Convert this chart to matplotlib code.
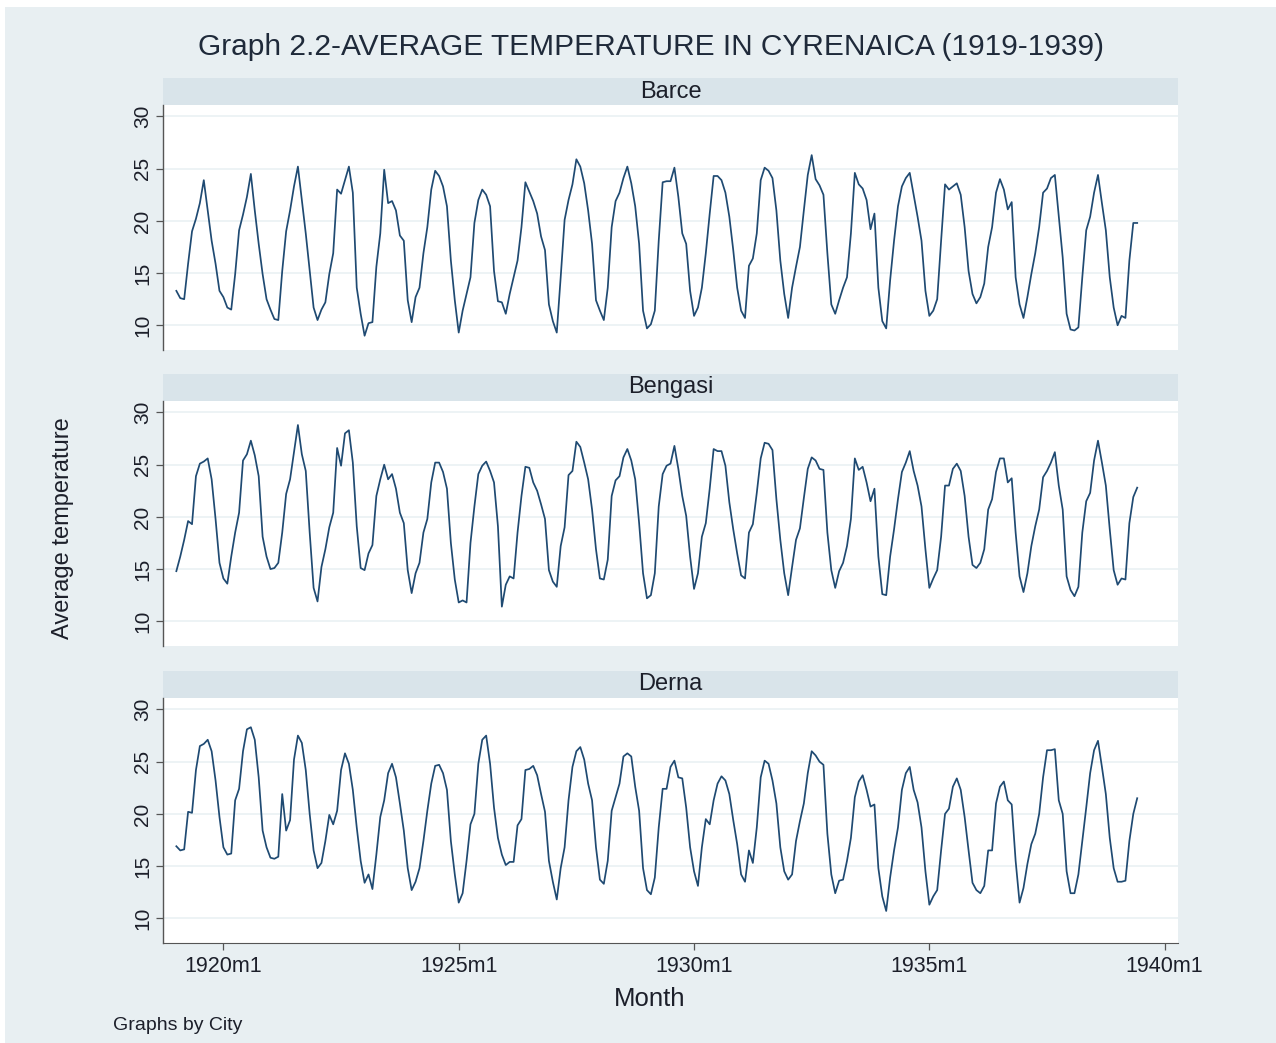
import matplotlib.pyplot as plt
from matplotlib.patches import Rectangle
import numpy as np

plt.rcParams['font.family'] = ['Liberation Sans', 'DejaVu Sans']

# monthly average temperature, 1919m1 .. 1939m6
barce = [
    13.3, 12.6, 12.5, 15.9, 19.0, 20.2, 21.7, 23.9, 21.0, 18.1, 15.9, 13.3,  # 1919
    12.7, 11.7, 11.5, 14.9, 19.1, 20.6, 22.3, 24.5, 21.0, 17.8, 14.9, 12.5,  # 1920
    11.5, 10.6, 10.5, 15.2, 19.0, 21.0, 23.3, 25.2, 22.0, 18.8, 15.2, 11.7,  # 1921
    10.5, 11.5, 12.2, 14.9, 16.9, 23.0, 22.6, 23.9, 25.2, 22.7, 13.6, 11.1,  # 1922
    9.0, 10.2, 10.3, 15.6, 18.8, 24.9, 21.7, 21.9, 21.0, 18.6, 18.1, 12.4,   # 1923
    10.3, 12.7, 13.6, 16.9, 19.4, 23.0, 24.8, 24.3, 23.3, 21.4, 16.2, 12.4,  # 1924
    9.3, 11.4, 13.0, 14.6, 19.8, 22.0, 23.0, 22.5, 21.4, 15.2, 12.3, 12.2,   # 1925
    11.1, 13.0, 14.6, 16.2, 19.4, 23.7, 22.8, 21.9, 20.7, 18.5, 17.2, 12.0,  # 1926
    10.4, 9.3, 14.6, 20.1, 22.0, 23.5, 25.9, 25.2, 23.6, 21.0, 17.8, 12.4,   # 1927
    11.4, 10.5, 13.6, 19.4, 21.9, 22.7, 24.1, 25.2, 23.6, 21.4, 17.8, 11.4,  # 1928
    9.7, 10.1, 11.4, 18.1, 23.7, 23.8, 23.8, 25.1, 22.3, 18.8, 17.8, 13.3,   # 1929
    10.9, 11.7, 13.6, 16.9, 20.7, 24.3, 24.3, 23.9, 22.7, 20.4, 17.2, 13.6,  # 1930
    11.4, 10.7, 15.7, 16.4, 18.8, 23.9, 25.1, 24.8, 24.1, 21.0, 16.2, 13.0,  # 1931
    10.7, 13.6, 15.6, 17.5, 21.0, 24.4, 26.3, 24.0, 23.4, 22.5, 16.9, 12.0,  # 1932
    11.1, 12.4, 13.6, 14.6, 18.8, 24.6, 23.5, 23.1, 22.0, 19.2, 20.7, 13.6,  # 1933
    10.4, 9.7, 14.3, 18.1, 21.4, 23.3, 24.1, 24.6, 22.5, 20.4, 18.1, 13.3,   # 1934
    10.9, 11.4, 12.5, 18.1, 23.5, 23.0, 23.3, 23.6, 22.5, 19.4, 15.2, 13.0,  # 1935
    12.1, 12.7, 14.0, 17.5, 19.4, 22.7, 24.0, 23.0, 21.1, 21.8, 14.6, 12.0,  # 1936
    10.7, 12.7, 14.9, 16.9, 19.4, 22.7, 23.1, 24.1, 24.4, 20.4, 16.5, 11.1,  # 1937
    9.6, 9.5, 9.8, 14.6, 19.1, 20.4, 22.7, 24.4, 21.7, 19.1, 14.6, 11.7,     # 1938
    10.0, 10.9, 10.7, 16.2, 19.8, 19.8,                                      # 1939
]
bengasi = [
    14.8, 16.2, 17.8, 19.6, 19.3, 23.9, 25.1, 25.3, 25.6, 23.6, 19.8, 15.6,  # 1919
    14.1, 13.6, 16.2, 18.5, 20.4, 25.4, 26.0, 27.3, 25.9, 23.9, 18.1, 16.2,  # 1920
    15.0, 15.1, 15.6, 18.5, 22.2, 23.6, 26.2, 28.8, 26.0, 24.4, 18.5, 13.2,  # 1921
    11.9, 15.2, 16.9, 19.0, 20.4, 26.6, 24.9, 28.0, 28.3, 25.2, 19.1, 15.1,  # 1922
    14.9, 16.5, 17.3, 22.0, 23.6, 25.0, 23.6, 24.1, 22.7, 20.4, 19.4, 14.9,  # 1923
    12.7, 14.6, 15.6, 18.5, 19.8, 23.3, 25.2, 25.2, 24.3, 22.7, 17.5, 14.0,  # 1924
    11.8, 12.0, 11.8, 17.5, 21.0, 24.1, 24.9, 25.3, 24.4, 23.3, 19.1, 11.4,  # 1925
    13.5, 14.3, 14.1, 18.5, 22.0, 24.8, 24.7, 23.3, 22.5, 21.2, 19.8, 14.9,  # 1926
    13.8, 13.3, 17.2, 19.0, 24.0, 24.4, 27.2, 26.7, 25.2, 23.6, 20.7, 16.9,  # 1927
    14.1, 14.0, 15.9, 22.0, 23.5, 23.9, 25.7, 26.5, 25.4, 23.6, 19.4, 14.6,  # 1928
    12.2, 12.5, 14.6, 21.0, 24.1, 24.9, 25.1, 26.8, 24.6, 22.0, 20.1, 16.2,  # 1929
    13.1, 14.6, 18.1, 19.4, 22.7, 26.5, 26.3, 26.3, 24.9, 21.4, 18.8, 16.5,  # 1930
    14.4, 14.1, 18.5, 19.3, 22.3, 25.6, 27.1, 27.0, 26.4, 21.7, 17.8, 14.6,  # 1931
    12.5, 15.2, 17.8, 18.9, 21.8, 24.6, 25.7, 25.4, 24.6, 24.5, 18.5, 14.9,  # 1932
    13.2, 14.8, 15.6, 17.2, 19.8, 25.6, 24.5, 24.8, 23.3, 21.5, 22.7, 16.2,  # 1933
    12.6, 12.5, 16.2, 18.8, 21.7, 24.3, 25.2, 26.3, 24.4, 23.0, 21.0, 16.9,  # 1934
    13.2, 14.1, 14.9, 18.1, 23.0, 23.0, 24.6, 25.1, 24.4, 22.0, 18.1, 15.4,  # 1935
    15.1, 15.6, 16.9, 20.7, 21.7, 24.3, 25.6, 25.6, 23.3, 23.7, 18.5, 14.3,  # 1936
    12.8, 14.6, 17.2, 19.1, 20.7, 23.8, 24.4, 25.2, 26.2, 23.0, 20.7, 14.3,  # 1937
    13.0, 12.4, 13.3, 18.5, 21.5, 22.3, 25.4, 27.3, 25.2, 23.0, 18.8, 14.9,  # 1938
    13.5, 14.1, 14.0, 19.4, 21.9, 22.8,                                      # 1939
]
derna = [
    16.9, 16.5, 16.6, 20.2, 20.1, 24.2, 26.5, 26.7, 27.1, 26.0, 23.2, 19.7,  # 1919
    16.8, 16.1, 16.2, 21.3, 22.4, 26.0, 28.1, 28.3, 27.1, 23.5, 18.4, 16.8,  # 1920
    15.8, 15.7, 15.9, 21.9, 18.4, 19.4, 25.2, 27.5, 26.8, 24.2, 20.0, 16.5,  # 1921
    14.8, 15.3, 17.4, 19.9, 19.0, 20.3, 24.2, 25.8, 24.8, 22.3, 18.7, 15.5,  # 1922
    13.4, 14.2, 12.8, 16.1, 19.7, 21.3, 23.9, 24.8, 23.5, 21.0, 18.4, 14.8,  # 1923
    12.7, 13.5, 14.8, 17.4, 20.3, 22.9, 24.6, 24.7, 23.9, 22.3, 17.4, 14.2,  # 1924
    11.5, 12.4, 15.5, 19.0, 20.0, 24.8, 27.1, 27.5, 24.8, 20.6, 17.7, 16.1,  # 1925
    15.1, 15.4, 15.4, 18.9, 19.5, 24.2, 24.3, 24.6, 23.7, 21.9, 20.2, 15.5,  # 1926
    13.5, 11.8, 14.8, 16.8, 21.3, 24.5, 26.0, 26.4, 25.2, 22.9, 21.3, 16.8,  # 1927
    13.7, 13.3, 15.5, 20.3, 21.6, 22.9, 25.5, 25.8, 25.5, 22.6, 20.3, 14.8,  # 1928
    12.7, 12.3, 13.9, 18.7, 22.4, 22.4, 24.5, 25.1, 23.5, 23.4, 20.6, 16.8,  # 1929
    14.5, 13.1, 16.8, 19.5, 19.0, 21.3, 22.9, 23.6, 23.2, 21.9, 19.4, 17.1,  # 1930
    14.2, 13.5, 16.5, 15.3, 18.7, 23.5, 25.1, 24.8, 23.2, 21.0, 16.8, 14.5,  # 1931
    13.7, 14.2, 17.4, 19.3, 21.0, 23.9, 26.0, 25.6, 25.0, 24.7, 18.1, 14.2,  # 1932
    12.4, 13.6, 13.7, 15.5, 17.7, 21.6, 23.1, 23.7, 22.3, 20.7, 20.9, 14.8,  # 1933
    12.1, 10.7, 13.9, 16.5, 18.7, 22.3, 23.9, 24.5, 22.3, 21.1, 18.7, 14.5,  # 1934
    11.3, 12.1, 12.7, 16.5, 20.0, 20.5, 22.6, 23.4, 22.3, 19.7, 16.5, 13.4,  # 1935
    12.7, 12.4, 13.1, 16.5, 16.5, 21.0, 22.6, 23.1, 21.3, 20.9, 15.5, 11.5,  # 1936
    12.9, 15.2, 17.1, 18.1, 20.0, 23.5, 26.1, 26.1, 26.2, 21.3, 20.0, 14.5,  # 1937
    12.4, 12.4, 14.2, 17.4, 20.6, 23.9, 26.1, 27.0, 24.5, 21.9, 17.7, 14.8,  # 1938
    13.5, 13.5, 13.6, 17.4, 20.0, 21.5,                                      # 1939
]
cities = ['Barce', 'Bengasi', 'Derna']
series = [barce, bengasi, derna]
tick_months = [0, 60, 120, 180, 240]
tick_labels = ['1920m1', '1925m1', '1930m1', '1935m1', '1940m1']

W, H = 1276, 1043
bg = '#e8eff2'
strip_c = '#d9e4ea'
grid_c = '#eaf1f3'
line_c = '#1f4a72'
txt_c = '#1c1f2a'

fig = plt.figure(figsize=(W / 100, H / 100), dpi=100, facecolor='white')
fig.patches.append(Rectangle((5 / W, 0), 1, 1 - 7 / H, transform=fig.transFigure,
                             facecolor=bg, edgecolor='none', zorder=-10))

months = np.arange(-12, -12 + len(barce))
left, right = 163, 1178
tops = [105, 401, 698]
ph = 244.5
sh = 27

for i, (city, vals) in enumerate(zip(cities, series)):
    top = tops[i]
    ax = fig.add_axes([left / W, 1 - (top + ph) / H, (right - left) / W, ph / H])
    ax.set_facecolor('white')
    ax.plot(months, vals, color=line_c, lw=1.25)
    ax.set_xlim(-15.4, 243.4)
    ax.set_ylim(7.68, 31.1)
    ax.set_yticks([10, 15, 20, 25, 30])
    ax.set_yticklabels(['10', '15', '20', '25', '30'], rotation=90, va='center',
                       fontsize=15, color=txt_c)
    ax.grid(axis='y', color=grid_c, lw=1.2)
    ax.set_axisbelow(True)
    for s in ['top', 'right']:
        ax.spines[s].set_visible(False)
    ax.spines['left'].set_color('#555555')
    ax.spines['left'].set_linewidth(1.0)
    ax.tick_params(axis='y', length=5, width=0.9, color='#555555', pad=3)
    if i < 2:
        ax.spines['bottom'].set_visible(False)
        ax.set_xticks([])
    else:
        ax.spines['bottom'].set_color('#555555')
        ax.set_xticks(tick_months)
        ax.set_xticklabels(tick_labels, fontsize=15.5, color=txt_c)
        ax.tick_params(axis='x', length=5, width=0.9, color='#555555', pad=5)
    # strip with city name
    ax.add_patch(Rectangle((0, 1), 1, sh / ph, transform=ax.transAxes,
                           facecolor=strip_c, edgecolor='none', clip_on=False))
    ax.text(0.5, 1 + sh / ph / 2, city, transform=ax.transAxes, ha='center',
            va='center', fontsize=17, color=txt_c)

fig.text(651 / W, 1 - 47 / H, 'Graph 2.2-AVERAGE TEMPERATURE IN CYRENAICA (1919-1939)',
         ha='center', va='center', fontsize=21.5, color='#1f2a3a')
fig.text(63 / W, 1 - 528 / H, 'Average temperature', rotation=90, ha='center',
         va='center', fontsize=17, color=txt_c)
fig.text(650 / W, 1 - 999 / H, 'Month', ha='center', va='center', fontsize=18.5,
         color=txt_c)
fig.text(113 / W, 1 - 1025 / H, 'Graphs by City', ha='left', va='center',
         fontsize=14, color=txt_c)

fig.savefig('out.png', dpi=100, facecolor=fig.get_facecolor())
